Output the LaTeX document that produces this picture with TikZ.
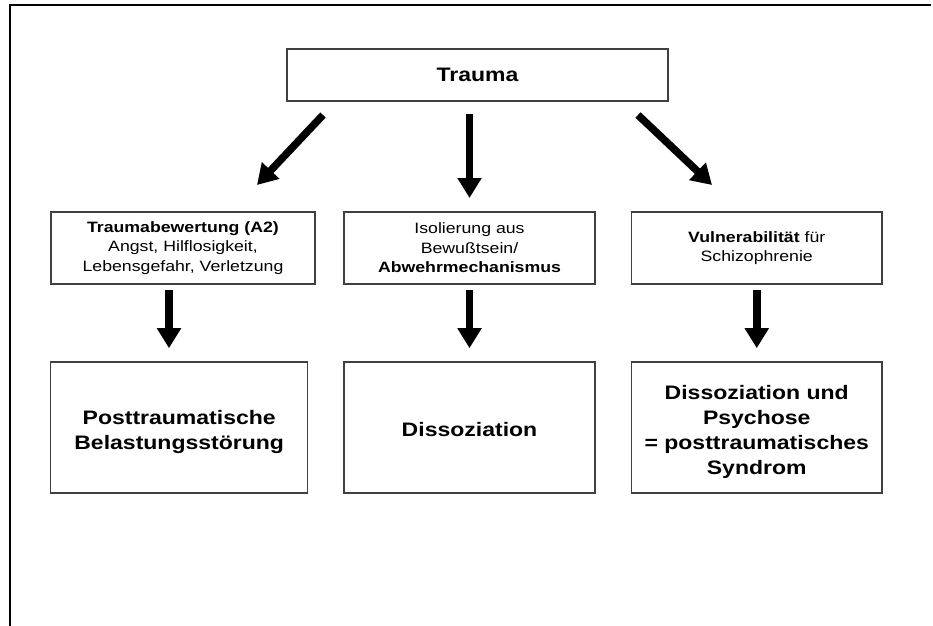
\documentclass[tikz,border=0pt]{standalone}
\usepackage{fontspec}
\setmainfont{Liberation Sans}[FakeStretch=1.18]
\usetikzlibrary{arrows.meta,calc}
\newcommand{\downstrut}{\rule{0pt}{22pt}}
\begin{document}
\begin{tikzpicture}[x=1pt,y=-1pt,
  box/.style={draw=black!75, line width=1.5pt, fill=white, rectangle, inner sep=0pt, outer sep=0pt, align=center},
  small/.style={font=\fontsize{15}{19.5}\selectfont},
  big/.style={font=\fontsize{19.5}{25}\selectfont\bfseries},
  bigarrow/.style={line width=7.5pt, -{Triangle[length=20pt,width=23pt]}},
  frameline/.style={line width=2pt, line cap=rect}]
\useasboundingbox (0,0) rectangle (933,625);
\fill[white] (0,0) rectangle (933,625);
\draw[frameline] (10,626) -- (10,5) -- (930,5);

\node[box, big, minimum width=381pt, minimum height=52pt] (trauma) at (477.5,75) {Trauma};

\node[box, small, minimum width=264pt, minimum height=72pt] (a2) at (183,248)
  {\textbf{Traumabewertung (A2)}\\Angst, Hilflosigkeit,\\Lebensgefahr, Verletzung};
\node[box, small, minimum width=251pt, minimum height=72pt] (mid) at (469.5,248)
  {Isolierung aus\\Bewußtsein/\\\textbf{Abwehrmechanismus}};
\node[box, small, minimum width=250.5pt, minimum height=72pt] (vr) at (756.75,248)
  {\textbf{Vulnerabilität} für\\Schizophrenie};

\node[box, big, minimum width=257pt, minimum height=131pt] (pts) at (179.2,427.7)
  {\downstrut Posttraumatische\\Belastungsstörung};
\node[box, big, minimum width=251pt, minimum height=131pt] (diss) at (469.5,427.7)
  {\rule{0pt}{18pt}Dissoziation};
\node[box, big, minimum width=250.5pt, minimum height=131pt] (psy) at (756.75,427.7)
  {\downstrut Dissoziation und\\Psychose\\= posttraumatisches\\Syndrom};

\draw[bigarrow] ($(trauma.south west)+(36,14)$) -- ($(a2.north)+(74,-27)$);
\draw[bigarrow] ($(trauma.south -| mid.north)+(0,13)$) -- ($(mid.north)+(0,-14)$);
\draw[bigarrow] ($(trauma.south east)+(-30,14)$) -- ($(vr.north)+(-44.75,-27)$);

\draw[bigarrow] ($(a2.south)+(-14,6)$) -- ($(pts.north -| a2.south)+(-14,-14)$);
\draw[bigarrow] ($(mid.south)+(0,6)$) -- ($(diss.north)+(0,-14)$);
\draw[bigarrow] ($(vr.south)+(0,6)$) -- ($(psy.north)+(0,-14)$);
\end{tikzpicture}
\end{document}
